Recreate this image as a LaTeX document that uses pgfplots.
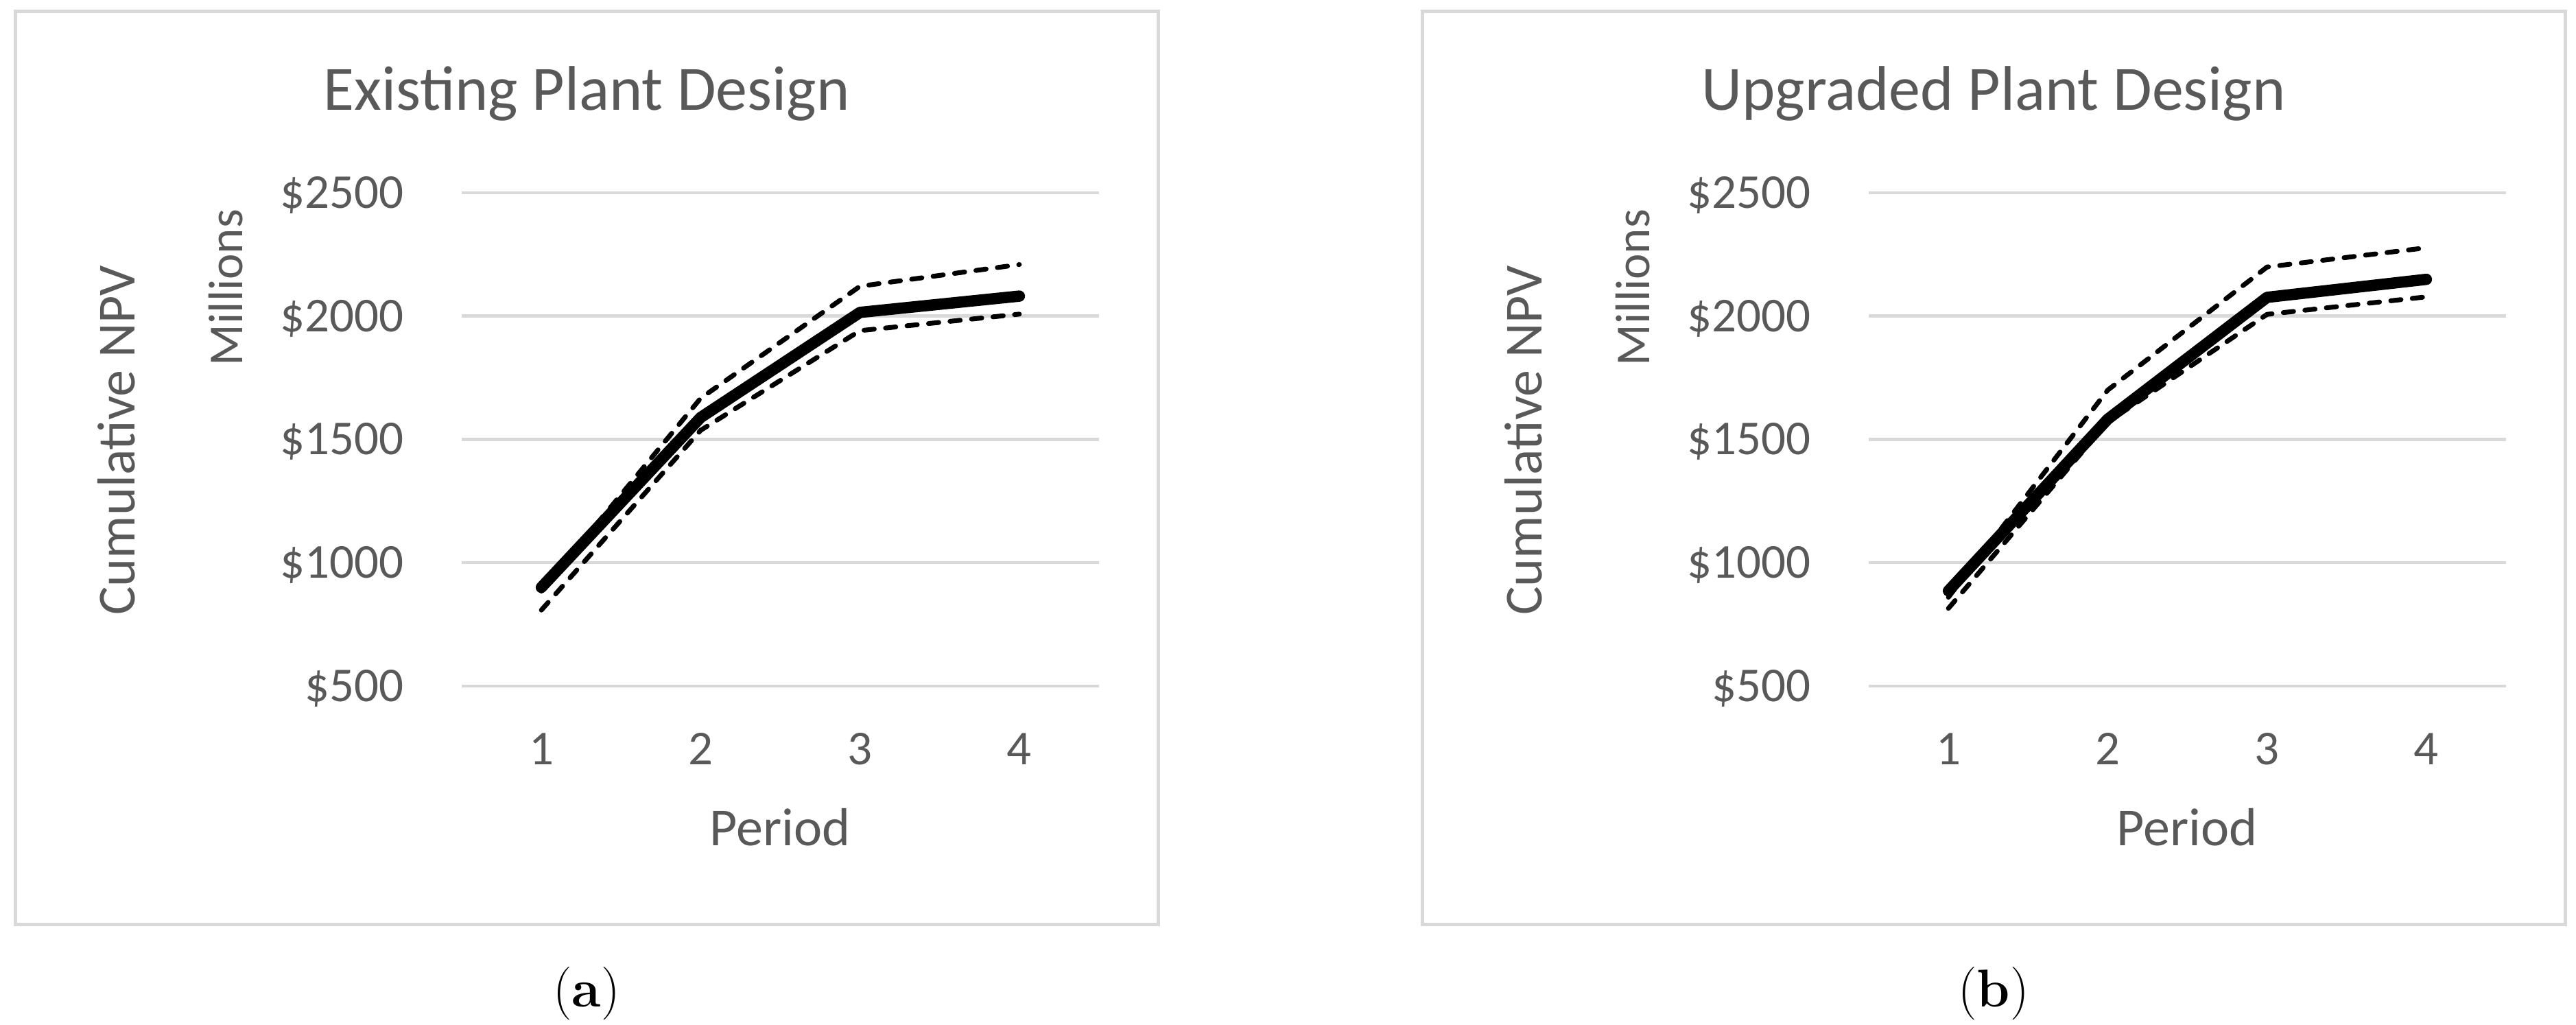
\documentclass[border=0pt]{standalone}
\usepackage{fontspec}
\newfontfamily\calibri{Carlito}
\usepackage{pgfplots}
\pgfplotsset{compat=1.18}
\definecolor{txt}{HTML}{595959}
\definecolor{grd}{HTML}{D9D9D9}
\pgfplotsset{npvstyle/.style={
  scale only axis, width=185.8pt, height=143.8pt, anchor=south west,
  xmin=0.5, xmax=4.5, ymin=500, ymax=2500,
  axis line style={draw=none}, major tick length=0pt,
  xtick={1,2,3,4}, xticklabels={1,2,3,4},
  ytick={500,1000,1500,2000,2500},
  yticklabels={\$500,\$1000,\$1500,\$2000,\$2500},
  ymajorgrids, major grid style={grd, line width=0.9pt},
  tick label style={font=\calibri\fontsize{14.2pt}{16pt}\selectfont, text=txt, inner sep=0pt},
  yticklabel style={anchor=base east, xshift=-16.8pt, yshift=-4.5pt},
  xticklabel style={anchor=base, yshift=-23pt},
  clip=false,
}}
\tikzset{
  midline/.style={black, line width=3.3pt, line cap=round, line join=round},
  bandline/.style={black, line width=1.4pt, line cap=round, line join=round, dash pattern=on 3pt off 3.3pt},
  ttltext/.style={anchor=base, text=txt, font=\calibri\fontsize{18.4pt}{20pt}\selectfont, inner sep=0pt},
  axtext/.style={anchor=base, text=txt, font=\calibri\fontsize{15.6pt}{18pt}\selectfont, inner sep=0pt},
  unittext/.style={anchor=base, text=txt, font=\calibri\fontsize{14.2pt}{16pt}\selectfont, inner sep=0pt},
  subcaption/.style={anchor=base, text=black, font=\fontsize{15.5pt}{18pt}\selectfont, inner sep=0pt},
}
\begin{document}
\begin{tikzpicture}
\path[use as bounding box] (0,0) rectangle (751pt,298.8pt);
% ---------- panel (a) ----------
\draw[grd, line width=1pt] (4.4pt,29.2pt) rectangle (337.6pt,295.4pt);
\begin{axis}[npvstyle, at={(134.6pt,98.8pt)}]
\addplot[midline] coordinates {(1,900) (2,1589) (3,2015) (4,2081)};
\addplot[bandline] coordinates {(1,885) (2,1667) (3,2121) (4,2209)};
\addplot[bandline] coordinates {(1,808) (2,1537) (3,1941) (4,2008)};
\end{axis}
\node[ttltext] at (171pt,266.6pt) {Existing Plant Design};
\node[axtext, rotate=90] at (39.2pt,170.4pt) {Cumulative NPV};
\node[unittext, rotate=90] at (70.7pt,215pt) {Millions};
\node[axtext] at (227.4pt,52.2pt) {Period};
\node[subcaption] at (171pt,5.3pt) {(\textbf{a})};
% ---------- panel (b) ----------
\draw[grd, line width=1pt] (414.6pt,29.2pt) rectangle (747.8pt,295.4pt);
\begin{axis}[npvstyle, at={(544.8pt,98.8pt)}]
\addplot[midline] coordinates {(1,886) (2,1582) (3,2076) (4,2149)};
\addplot[bandline] coordinates {(1,860) (2,1700) (3,2199) (4,2277)};
\addplot[bandline] coordinates {(1,815) (2,1570) (3,2007) (4,2078)};
\end{axis}
\node[ttltext] at (581.2pt,266.6pt) {Upgraded Plant Design};
\node[axtext, rotate=90] at (449.4pt,170.4pt) {Cumulative NPV};
\node[unittext, rotate=90] at (480.9pt,215pt) {Millions};
\node[axtext] at (637.6pt,52.2pt) {Period};
\node[subcaption] at (581.2pt,5.3pt) {(\textbf{b})};
\end{tikzpicture}
\end{document}
